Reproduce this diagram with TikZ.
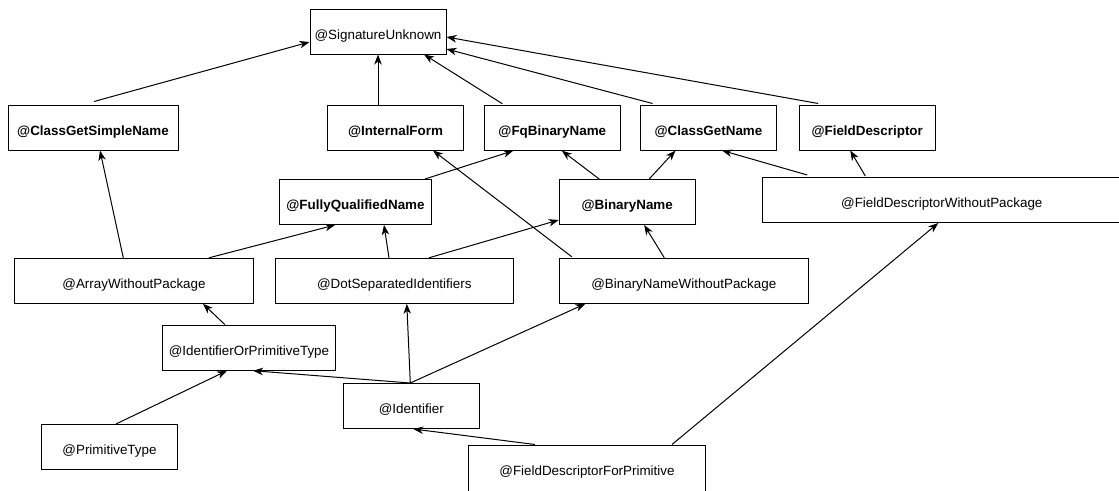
\documentclass[tikz,border=0pt]{standalone}
\usepackage{fontspec}
\setmainfont{Liberation Sans}
\usetikzlibrary{arrows.meta,calc}
\begin{document}
\begin{tikzpicture}[x=1pt,y=-1pt,
  box/.style={draw=black, fill=white, line width=1pt, rectangle, inner sep=0pt,
    minimum height=45pt, font=\fontsize{13.4}{16}\selectfont, text height=15pt, text depth=0pt},
  bbox/.style={box, font=\fontsize{13.4}{16}\selectfont\bfseries},
  edge/.style={line width=1pt, -{Stealth[length=10pt,width=7.5pt,inset=3pt]}}]
\useasboundingbox (0,0) rectangle (1119,490);

% row 0
\node[box, minimum width=136pt] (sig) at (378,31.5) {@SignatureUnknown};
% row 1
\node[bbox, minimum width=170pt] (cgsn) at (93,127.5) {@ClassGetSimpleName};
\node[bbox, minimum width=136pt] (inf) at (395.5,127.5) {@InternalForm};
\node[bbox, minimum width=136pt] (fqbn) at (552.3,127.7) {@FqBinaryName};
\node[bbox, minimum width=136pt] (cgn) at (708.5,127.5) {@ClassGetName};
\node[bbox, minimum width=136pt] (fd) at (867.2,127.5) {@FieldDescriptor};
% row 2
\node[bbox, minimum width=152.4pt] (fqn) at (355.5,202) {@FullyQualifiedName};
\node[bbox, minimum width=136pt] (bn) at (627.2,202) {@BinaryName};
\node[box, minimum width=358pt] (fdwp) at (941.8,200) {@FieldDescriptorWithoutPackage};
% row 3
\node[box, minimum width=238.6pt] (awp) at (134,280.8) {@ArrayWithoutPackage};
\node[box, minimum width=238pt] (dsi) at (394.3,280.8) {@DotSeparatedIdentifiers};
\node[box, minimum width=249pt] (bnwp) at (683.8,280.8) {@BinaryNameWithoutPackage};
% row 4
\node[box, minimum width=172.6pt] (iopt) at (249,347.7) {@IdentifierOrPrimitiveType};
\node[box, minimum width=136pt] (id) at (411.3,406) {@Identifier};
\node[box, minimum width=136pt] (pt) at (109.5,447) {@PrimitiveType};
\node[box, minimum width=237.4pt, minimum height=46pt] (fdfp) at (587,468) {@FieldDescriptorForPrimitive};

% edges to SignatureUnknown
\draw[edge] ($(cgsn.north)+(1,-3)$) -- ($(sig.west)+(0,10.5)$);
\draw[edge] ($(inf.north)+(-17.5,0)$) -- (sig.south);
\draw[edge] ($(fqbn.north)+(-50,-1)$) -- ($(sig.south)+(46,0)$);
\draw[edge] ($(cgn.north)+(-56,-1)$) -- ($(sig.east)+(0,17.5)$);
\draw[edge] ($(fd.north)+(-49,-1)$) -- ($(sig.east)+(0,5.5)$);

% row 2 -> row 1
\draw[edge] ($(fqn.north)+(69.5,0)$) -- ($(fqbn.south)+(-39,0)$);
\draw[edge] ($(bn.north)+(-28,0)$) -- ($(fqbn.south)+(9.5,0)$);
\draw[edge] ($(bn.north)+(22,0)$) -- ($(cgn.south)+(-33,0)$);
\draw[edge] ($(fdwp.north west)+(45,-2)$) -- ($(cgn.south)+(13.5,0)$);
\draw[edge] ($(fdwp.north west)+(103,-1)$) -- ($(fd.south)+(-17,0)$);

% row 3 -> upper
\draw[edge] ($(bnwp.north)+(-112,-1)$) -- ($(inf.south)+(37.5,0)$);
\draw[edge] ($(awp.north)+(-10.7,0)$) -- ($(cgsn.south)+(7,0)$);
\draw[edge] ($(awp.north)+(75,0)$) -- ($(fqn.south)+(-20.5,0)$);
\draw[edge] ($(dsi.north)+(-5.3,0)$) -- ($(fqn.south)+(28.5,0)$);
\draw[edge] ($(dsi.north)+(34.7,0)$) -- ($(bn.south west)+(0,-5)$);
\draw[edge] ($(bnwp.north)+(-19.5,0)$) -- ($(bn.south)+(17,0)$);

% lower rows
\draw[edge] ($(iopt.north)+(-24,0)$) -- ($(awp.south)+(69,0)$);
\draw[edge] ($(pt.north)+(6.5,0)$) -- ($(iopt.south)+(-22,0)$);
\draw[edge] ($(id.north)+(-1,0)$) -- ($(iopt.south)+(4,0)$);
\draw[edge] ($(id.north)+(-1,0)$) -- ($(dsi.south)+(12.5,0)$);
\draw[edge] ($(id.north)+(-1,0)$) -- ($(bnwp.south west)+(26.5,0)$);
\draw[edge] ($(fdfp.north)+(-52,0)$) -- ($(id.south)+(2,0)$);
\draw[edge] ($(fdfp.north)+(85,0)$) -- ($(fdwp.south)+(-3.5,0)$);
\end{tikzpicture}
\end{document}
